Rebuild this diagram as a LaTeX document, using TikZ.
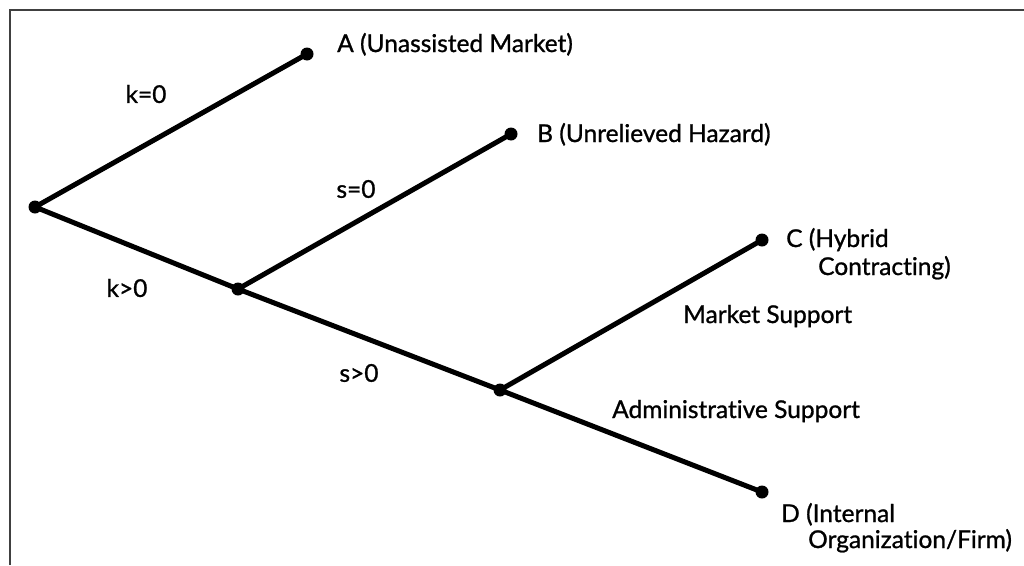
\documentclass[tikz,border=0pt]{standalone}
\usepackage{fontspec}
\setmainfont{Lato}
\newfontfamily\lblfont{Lato}[FakeBold=1,Ligatures={NoCommon,NoRare,NoDiscretionary}]
\begin{document}
\begin{tikzpicture}[x=1pt,y=-1pt,
  dot/.style={circle,fill=black,inner sep=0pt,minimum size=13pt},
  branch/.style={line width=5pt,line cap=round},
  lbl/.style={inner sep=0pt,font=\lblfont\fontsize{24.5}{28}\selectfont},
  frameline/.style={line width=2.5pt,draw=black!75}]
\useasboundingbox (0,0) rectangle (1024,565);
\fill[white] (0,0) rectangle (1024,565);
% frame (top and left edges)
\coordinate (f1) at (10,565);
\coordinate (f2) at (10,10);
\coordinate (f3) at (1024,10);
\draw[frameline] (f1) -- (f2) -- (f3);
% decision points and outcomes
\node[dot] (O) at (35,207) {};
\node[dot] (A) at (307,54) {};
\node[dot] (B) at (511,134) {};
\node[dot] (K) at (238,289) {};
\node[dot] (C) at (762,240) {};
\node[dot] (S) at (500,390) {};
\node[dot] (D) at (762,492) {};
% branches
\draw[branch] (O.center) -- (A.center);
\draw[branch] (O.center) -- (K.center);
\draw[branch] (K.center) -- (B.center);
\draw[branch] (K.center) -- (S.center);
\draw[branch] (S.center) -- (C.center);
\draw[branch] (S.center) -- (D.center);
% outcome labels
\node[lbl,anchor=base west] (la) at (337,52) {A (Unassisted Market)};
\node[lbl,anchor=base west] (lb) at (537,142) {B (Unrelieved Hazard)};
\node[lbl,anchor=base west] (lc1) at (786,247) {C (Hybrid};
\node[lbl,anchor=base west] (lc2) at (818,275) {Contracting)};
\node[lbl,anchor=base west] (ld1) at (781,522) {D (Internal};
\node[lbl,anchor=base west] (ld2) at (808,548) {Organization/Firm)};
% branch labels
\node[lbl] (k0) at (146,94) {k=0};
\node[lbl] (s0) at (356,189) {s=0};
\node[lbl] (kp) at (127,288) {k>0};
\node[lbl] (sp) at (359,373) {s>0};
\node[lbl,anchor=base west] (ms) at (683,323) {Market Support};
\node[lbl,anchor=base west] (as) at (612,418) {Administrative Support};
\end{tikzpicture}
\end{document}
